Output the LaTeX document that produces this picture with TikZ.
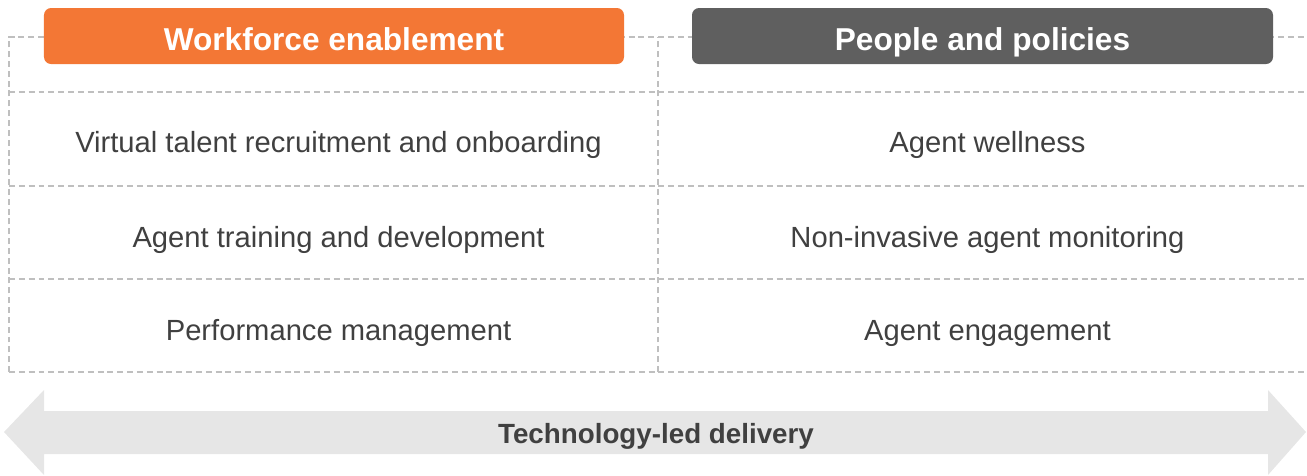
\documentclass[tikz,border=0pt]{standalone}
\usepackage{fontspec}
\setmainfont{Liberation Sans}
\definecolor{wforange}{HTML}{F37735}
\definecolor{ppgray}{HTML}{5F5F5F}
\definecolor{celltext}{HTML}{404040}
\definecolor{gridgray}{HTML}{BFBFBF}
\definecolor{arrowgray}{HTML}{E6E6E6}

\begin{document}
\begin{tikzpicture}
    \useasboundingbox (0, 0) rectangle (13.07, 4.75);

    \begin{scope}[gridgray, line width=0.4pt, dash pattern=on 1.7pt off 1.1pt]
        \draw (0.09, 1.03) -- (0.09, 4.38) -- (13.07, 4.38);
        \draw (6.58, 1.03) -- (6.58, 4.38);
        \draw (0.09, 3.83) -- (13.07, 3.83);
        \draw (0.09, 2.89) -- (13.07, 2.89);
        \draw (0.09, 1.96) -- (13.07, 1.96);
        \draw (0.09, 1.03) -- (13.07, 1.03);
    \end{scope}

    \begin{scope}[every node/.style={text=white, rounded corners=2pt, minimum height=0.56cm,
            inner sep=0pt, text height=0.85em, text depth=0pt,
            font=\fontsize{9pt}{11pt}\selectfont\bfseries}]
        \node[fill=wforange, minimum width=5.80cm] (H_1) at (3.34, 4.39) {Workforce enablement};
        \node[fill=ppgray, minimum width=5.81cm] (H_2) at (9.825, 4.39) {People and policies};
    \end{scope}

    \begin{scope}[every node/.style={text=celltext, font=\fontsize{8.3pt}{10pt}\selectfont}]
        \node (L_1) at (3.385, 3.30) {Virtual talent recruitment and onboarding};
        \node (L_2) at (3.385, 2.35) {Agent training and development};
        \node (L_3) at (3.385, 1.42) {Performance management};

        \node (R_1) at (9.875, 3.30) {Agent wellness};
        \node (R_2) at (9.875, 2.35) {Non-invasive agent monitoring};
        \node (R_3) at (9.875, 1.42) {Agent engagement};
    \end{scope}

    \begin{scope}
        \fill[arrowgray] (0.04, 0.43) -- (0.44, 0.85) -- (0.44, 0.64) -- (12.68, 0.64)
            -- (12.68, 0.85) -- (13.06, 0.43) -- (12.68, 0.0) -- (12.68, 0.21)
            -- (0.44, 0.21) -- (0.44, 0.0) -- cycle;
        \node[text=celltext, font=\fontsize{7.9pt}{10pt}\selectfont\bfseries] (T) at (6.56, 0.39) {Technology-led delivery};
    \end{scope}
\end{tikzpicture}
\end{document}
